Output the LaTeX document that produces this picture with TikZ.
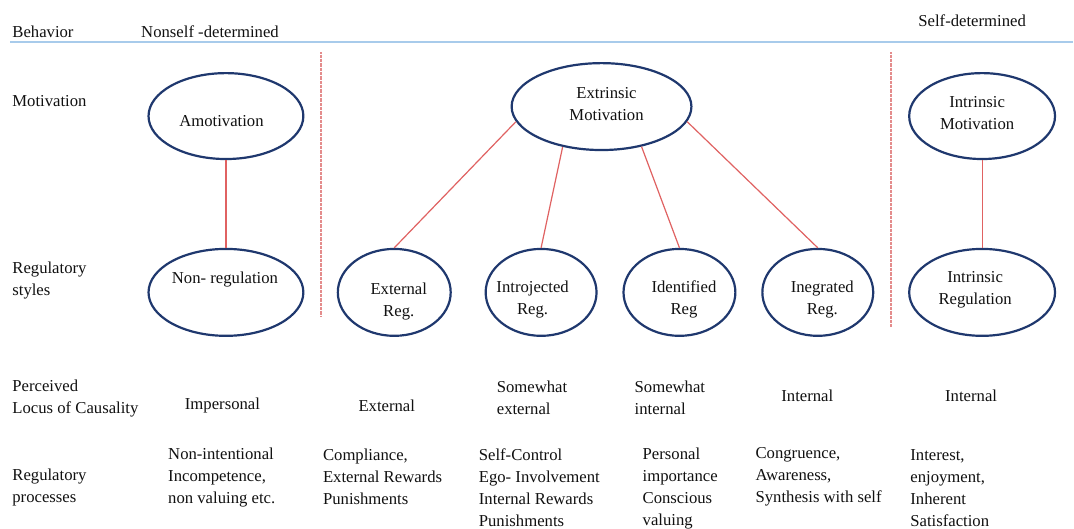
\documentclass[tikz,border=0pt]{standalone}
\usepackage{fontspec}
\setmainfont{Liberation Serif}
\definecolor{ovalblue}{HTML}{1F386E}
\definecolor{linkred}{HTML}{E06262}
\definecolor{dividerpink}{HTML}{E48C8C}
\definecolor{ruleblue}{HTML}{A8CBEB}
\definecolor{inkgray}{HTML}{111111}
\begin{document}
\begin{tikzpicture}[x=1pt,y=-1pt,
  every node/.style={font=\fontsize{16.7}{22}\selectfont,text=inkgray,inner sep=0pt},
  lbl/.style={anchor=west,align=left},
  oval/.style={ellipse,draw=ovalblue,line width=2.2pt,inner sep=0pt},
  link/.style={draw=linkred,line width=1.2pt},
  divider/.style={draw=dividerpink,line width=1.8pt,dash pattern=on 0.8pt off 0.5pt}]
\usetikzlibrary{shapes.geometric}
\filldraw[color=white] (0,0) rectangle (1074,528);
% Drawing header and rule
\node[lbl] (behav) at (12,32) {Behavior};
\node[lbl] (nonself) at (141,32) {Nonself -determined};
\node[lbl] (selfdet) at (919,21) {Self-determined};
\draw[color=ruleblue,line width=2pt] (10,42) -- (1074,42);
% Drawing dividers
\draw[divider] (321,52) -- (321,317);
\draw[divider] (892,52) -- (892,327);
% Drawing row labels
\node[lbl] (motiv) at (12,101) {Motivation};
\node[lbl] (regsty) at (12,280.5) {Regulatory\\styles};
\node[lbl] (locus) at (12,398.5) {Perceived\\Locus of Causality};
\node[lbl] (regproc) at (12,487.5) {Regulatory\\processes};
% Drawing ovals
\node[oval,minimum width=155pt,minimum height=86pt] (amot) at (226,116) {};
\node[oval,minimum width=155pt,minimum height=87pt] (nonreg) at (226,292.5) {};
\node[oval,minimum width=180pt,minimum height=87pt] (extr) at (602,106.5) {};
\node[oval,minimum width=113pt,minimum height=87pt] (extreg) at (394.5,292.5) {};
\node[oval,minimum width=111pt,minimum height=87pt] (introreg) at (541.5,292.5) {};
\node[oval,minimum width=112pt,minimum height=87pt] (identreg) at (680,292.5) {};
\node[oval,minimum width=111pt,minimum height=87pt] (integreg) at (818.5,292.5) {};
\node[oval,minimum width=146pt,minimum height=86pt] (intrmot) at (983,116) {};
\node[oval,minimum width=146pt,minimum height=87pt] (intrreg) at (983,292.5) {};
% Drawing oval texts
\node[align=center] (amottxt) at (221.5,121) {Amotivation};
\node[align=center] (nonregtxt) at (225,280) {Non- regulation};
\node[align=center] (extrtxt) at (607,103.5) {Extrinsic\\Motivation};
\node[align=center] (extregtxt) at (399,301.5) {External\\Reg.};
\node[align=center] (introregtxt) at (533,299.5) {Introjected\\Reg.};
\node[align=center] (identregtxt) at (684.5,299.5) {Identified\\Reg};
\node[align=center] (integregtxt) at (823,300) {Inegrated\\Reg.};
\node[align=center] (intrmottxt) at (978,112.5) {Intrinsic\\Motivation};
\node[align=center] (intrregtxt) at (976,290) {Intrinsic\\Regulation};
% Drawing links
\draw[link] (amot.south) -- (nonreg.north);
\draw[link] (extr.190) -- (extreg.north);
\draw[link] (extr.226) -- (introreg.north);
\draw[link] (extr.315) -- (identreg.north);
\draw[link] (extr.350) -- (integreg.north);
\draw[link] (intrmot.south) -- (intrreg.north);
% Drawing locus of causality row
\node (impers) at (222.5,406) {Impersonal};
\node (extloc) at (387,406) {External};
\node[lbl] (swext) at (497,398.5) {Somewhat\\external};
\node[lbl] (swint) at (635,398.5) {Somewhat\\internal};
\node (intloc) at (808,396) {Internal};
\node (intrloc) at (972,396) {Internal};
% Drawing regulatory processes row
\node[lbl] (nonint) at (168,477.5) {Non-intentional\\Incompetence,\\non valuing etc.};
\node[lbl] (compl) at (323,477.5) {Compliance,\\External Rewards\\Punishments};
\node[lbl] (selfctl) at (479,488.5) {Self-Control\\Ego- Involvement\\Internal Rewards\\Punishments};
\node[lbl] (persimp) at (643,488.5) {Personal\\importance\\Conscious\\valuing};
\node[lbl] (congr) at (756,477.5) {Congruence,\\Awareness,\\Synthesis with self};
\node[lbl] (interest) at (911,488.5) {Interest,\\enjoyment,\\Inherent\\Satisfaction};
% Done with drawing
\end{tikzpicture}
\end{document}
